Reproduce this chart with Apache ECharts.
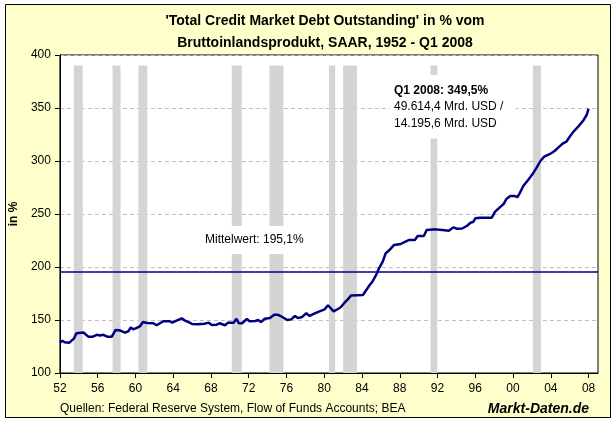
<!DOCTYPE html>
<html><head><meta charset="utf-8">
<script src="https://cdn.jsdelivr.net/npm/echarts@6/dist/echarts.min.js"></script>
<style>html,body{margin:0;padding:0;background:#fff}#c{width:616px;height:426px}</style>
</head><body><div id="c"></div>
<script>
// Quarter positions (decimal years) and debt in % of GDP
const years = [1952.0,1952.25,1952.5,1953.0,1953.5,1953.75,1954.5,1955.0,1955.5,1955.9,1956.25,1956.6,1957.0,1957.5,1957.9,1958.1,1958.4,1958.9,1959.25,1959.5,1959.75,1960.1,1960.5,1960.8,1961.25,1961.9,1962.25,1962.6,1962.95,1963.65,1963.9,1964.35,1964.9,1965.25,1965.75,1966.0,1966.6,1967.3,1967.75,1968.1,1968.6,1968.9,1969.5,1969.8,1970.4,1970.7,1970.95,1971.3,1971.8,1972.1,1972.7,1973.0,1973.3,1973.7,1974.25,1974.7,1975.05,1975.5,1976.1,1976.5,1976.9,1977.2,1977.6,1978.1,1978.45,1979.0,1979.5,1980.05,1980.4,1980.6,1981.0,1981.45,1981.75,1982.15,1982.5,1982.85,1984.1,1984.4,1984.8,1985.1,1985.5,1985.8,1986.2,1986.5,1986.9,1987.4,1988.1,1988.6,1989.0,1989.6,1989.9,1990.55,1990.85,1991.8,1992.5,1993.2,1993.7,1994.1,1994.6,1995.1,1995.5,1995.8,1996.0,1996.5,1997.75,1998.1,1998.6,1999.0,1999.3,1999.7,2000.2,2000.45,2000.7,2001.1,2001.6,2002.05,2002.5,2002.9,2003.3,2003.7,2004.05,2004.4,2004.9,2005.3,2005.65,2006.0,2006.35,2006.9,2007.4,2007.8,2008.0];
const values = [128.6,130.5,129.0,128.6,132.7,137.5,138.2,134.3,134.3,136.0,135.4,136.0,134.3,134.3,140.6,141.8,140.0,138.0,139.4,143.0,141.3,142.3,144.3,148.1,147.2,146.9,145.0,146.9,148.8,148.8,147.5,149.4,151.6,149.4,147.5,146.2,145.9,146.5,147.5,145.3,145.6,146.9,145.0,147.5,147.5,151.2,146.9,146.9,150.9,148.8,149.1,150.0,148.1,151.2,151.9,155.0,155.0,153.1,150.0,150.6,153.8,151.9,152.5,156.3,153.8,156.3,158.2,160.1,163.9,162.6,158.2,160.4,162.0,166.3,169.5,173.2,173.6,177.6,182.7,186.1,192.5,198.8,205.0,212.9,216.0,220.8,221.7,223.9,225.5,225.5,229.2,229.2,234.9,235.5,234.9,234.2,237.4,236.0,236.3,238.7,241.8,242.7,245.9,246.5,246.5,252.2,256.3,259.4,264.2,267.0,267.0,265.8,269.5,276.7,282.1,287.4,293.7,300.0,304.1,305.7,307.3,309.4,313.5,316.7,318.2,322.9,327.1,332.4,337.7,343.4,349.5];
// Recession bands (start / end, decimal years)
const recessionStart = [1953.47,1957.58,1960.32,1970.2,1974.2,1980.5,1982.0,1991.26,2002.1];
const recessionEnd   = [1954.42,1958.42,1961.26,1971.26,1975.68,1981.16,1983.47,1991.97,2002.95];
const recessionTop = 390;
const meanValue = 195.1;
const xTickYears = [1952,1956,1960,1964,1968,1972,1976,1980,1984,1988,1992,1996,2000,2004,2008];
const yTickValues = [100,150,200,250,300,350,400];

const FONT = '"Liberation Sans", Arial, sans-serif';
const chart = echarts.init(document.getElementById('c'), null, {renderer:'canvas'});
const lineData = years.map((y,i)=>[y, values[i]]);
const areas = recessionStart.map((s,i)=>[{xAxis:s, yAxis:yTickValues[0]},{xAxis:recessionEnd[i], yAxis:recessionTop}]);

chart.setOption({
  animation:false,
  textStyle:{fontFamily:FONT},
  graphic:[
    {type:'rect', z:-10, shape:{x:5.5,y:4.5,width:605,height:413}, style:{fill:'#FFFFCC', stroke:'#000', lineWidth:1}},
    {type:'text', z:100, x:325, y:10, style:{text:"'Total Credit Market Debt Outstanding' in % vom\nBruttoinlandsprodukt, SAAR, 1952 - Q1 2008", align:'center', font:'bold 14px '+FONT, fill:'#000', lineHeight:22}},
    {type:'text', z:100, x:390, y:75, style:{text:'{b|Q1 2008: 349,5%}\n49.614,4 Mrd. USD /\n14.195,6 Mrd. USD', font:'12px '+FONT, fill:'#000', lineHeight:16.5, backgroundColor:'#fff', padding:[7,12,7,4], rich:{b:{font:'bold 12px '+FONT, fill:'#000', lineHeight:16.5}}}},
    {type:'text', z:100, x:200, y:226, style:{text:'Mittelwert: 195,1%', font:'12px '+FONT, fill:'#000', lineHeight:16, backgroundColor:'#fff', padding:[6,4,6,5]}},
    {type:'text', z:100, x:60, y:403, style:{text:'Quellen: Federal Reserve System, Flow of Funds Accounts; BEA', font:'12px '+FONT, fill:'#000'}},
    {type:'text', z:100, x:589, y:402, style:{text:'Markt-Daten.de', align:'right', font:'italic bold 14px '+FONT, fill:'#000'}}
  ],
  grid:{left:57, right:18, top:55, bottom:53, show:true, backgroundColor:'#fff', borderColor:'#000', borderWidth:1},
  xAxis:{type:'value', min:1952, max:2009, interval:4,
    axisLine:{show:true, lineStyle:{color:'#000'}},
    axisTick:{show:true, length:5, lineStyle:{color:'#000'}},
    axisLabel:{color:'#000', fontSize:12, margin:10, showMaxLabel:false,
      formatter:v=> xTickYears.indexOf(v)>=0 ? String(v%100).padStart(2,'0') : ''},
    splitLine:{show:false}},
  yAxis:{type:'value', min:100, max:400, interval:50,
    name:'in %', nameLocation:'middle', nameGap:38, nameRotate:90,
    nameTextStyle:{color:'#000', fontWeight:'bold', fontSize:12},
    axisLine:{show:true, lineStyle:{color:'#000'}},
    axisTick:{show:true, length:5, lineStyle:{color:'#000'}},
    axisLabel:{color:'#000', fontSize:12, margin:9},
    splitLine:{show:true, lineStyle:{color:'#c0c0c0', type:[4,3], width:1}}},
  series:[{
    type:'line', data:lineData, showSymbol:false, symbol:'none',
    lineStyle:{color:'#000080', width:2.5}, z:3,
    markArea:{silent:true, itemStyle:{color:'#d4d4d4', opacity:1}, data:areas},
    markLine:{silent:true, symbol:'none', label:{show:false}, lineStyle:{color:'#000080', width:1.5, type:'solid'}, data:[{yAxis:meanValue}]}
  }]
});
</script></body></html>
